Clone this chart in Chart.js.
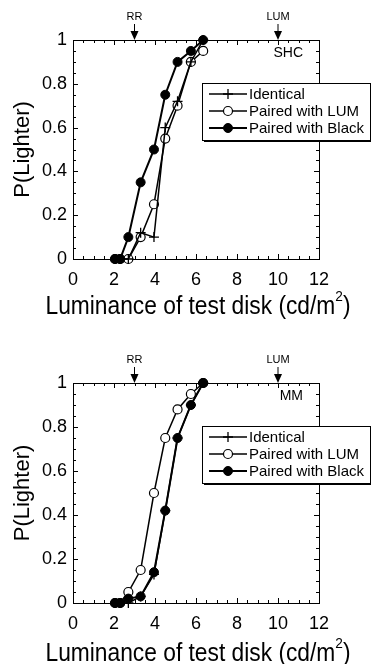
<!DOCTYPE html>
<html>
<head>
<meta charset="utf-8">
<script src="https://cdn.jsdelivr.net/npm/chart.js@4.4.1/dist/chart.umd.min.js"></script>
<style>
  html, body { margin: 0; padding: 0; background: #fff; }
  #wrap { position: relative; width: 371px; height: 664px; overflow: hidden; }
  canvas { position: absolute; left: 0; }
</style>
</head>
<body>
<div id="wrap">
  <canvas id="top" width="371" height="332" style="top:0"></canvas>
  <canvas id="bottom" width="371" height="340" style="top:332px"></canvas>
</div>
<script>
// luminance of the test disk (cd/m2), shared by every series
const luminance = [2.05, 2.3, 2.7, 3.3, 3.95, 4.5, 5.1, 5.75, 6.35];
const seriesNames = ['Identical', 'Paired with LUM', 'Paired with Black'];

// observer SHC
const shcIdentical = [0, 0, 0, 0.12, 0.1, 0.6, 0.72, 0.9, 1.0];
const shcLum       = [0, 0, 0, 0.1, 0.25, 0.55, 0.7, 0.9, 0.95];
const shcBlack     = [0, 0, 0.1, 0.35, 0.5, 0.75, 0.9, 0.95, 1.0];

// observer MM
const mmIdentical = [0, 0, 0, 0.03, 0.13, 0.42, 0.75, 0.9, 1.0];
const mmLum       = [0, 0, 0.05, 0.15, 0.5, 0.75, 0.88, 0.95, 1.0];
const mmBlack     = [0, 0, 0.02, 0.03, 0.14, 0.42, 0.75, 0.9, 1.0];

// reference luminances marked above the plot
const markerNames = ['RR', 'LUM'];
const markerValues = [3, 10];

const FONT = '"Liberation Sans", Arial, sans-serif';

function toPoints(ys) {
  return luminance.map((x, i) => ({ x, y: ys[i] }));
}

// lower order is drawn on top, so the black dots cover the rest
function makeDatasets(ident, lum, black) {
  return [
    { label: seriesNames[0], data: toPoints(ident), order: 1, borderColor: '#000', backgroundColor: '#000',
      borderWidth: 1.5, pointStyle: 'cross', pointRadius: 5, pointBorderWidth: 1.3, clip: false },
    { label: seriesNames[1], data: toPoints(lum), order: 2, borderColor: '#000', backgroundColor: '#fff',
      borderWidth: 1.5, pointStyle: 'circle', pointRadius: 4.5, pointBorderWidth: 1.2, clip: false },
    { label: seriesNames[2], data: toPoints(black), order: 0, borderColor: '#000', backgroundColor: '#000',
      borderWidth: 2, pointStyle: 'circle', pointRadius: 4.5, pointBorderWidth: 1, clip: false }
  ];
}

// frame with inward major/minor ticks on all four sides
const framePlugin = {
  id: 'frame',
  beforeDatasetsDraw(chart) {
    const { ctx, chartArea: a, scales: { x, y } } = chart;
    ctx.save();
    ctx.strokeStyle = '#000';
    ctx.lineWidth = 1;
    ctx.strokeRect(a.left + 0.5, a.top + 0.5, a.right - a.left, a.bottom - a.top);
    ctx.beginPath();
    for (let i = 0; i <= 24; i++) {
      const px = Math.round(x.getPixelForValue(i * 0.5)) + 0.5;
      const len = i % 4 === 0 ? 5 : 3;
      ctx.moveTo(px, a.bottom); ctx.lineTo(px, a.bottom - len);
      ctx.moveTo(px, a.top); ctx.lineTo(px, a.top + len);
    }
    for (let i = 0; i <= 20; i++) {
      const py = Math.round(y.getPixelForValue(i * 0.05)) + 0.5;
      const len = i % 4 === 0 ? 5 : 3;
      ctx.moveTo(a.left, py); ctx.lineTo(a.left + len, py);
      ctx.moveTo(a.right, py); ctx.lineTo(a.right - len, py);
    }
    ctx.stroke();
    ctx.restore();
  }
};

function drawMarker(ctx, ds, cx, cy) {
  ctx.lineWidth = ds.pointBorderWidth;
  ctx.strokeStyle = ds.borderColor;
  ctx.fillStyle = ds.backgroundColor;
  if (ds.pointStyle === 'cross') {
    ctx.beginPath();
    ctx.moveTo(cx - ds.pointRadius, cy); ctx.lineTo(cx + ds.pointRadius, cy);
    ctx.moveTo(cx, cy - ds.pointRadius); ctx.lineTo(cx, cy + ds.pointRadius);
    ctx.stroke();
  } else {
    ctx.beginPath();
    ctx.arc(cx, cy, ds.pointRadius, 0, Math.PI * 2);
    ctx.fill();
    ctx.stroke();
  }
}

const notesPlugin = {
  id: 'notes',
  afterDraw(chart, args, opts) {
    const { ctx, chartArea: a, scales: { x } } = chart;
    ctx.save();
    // arrows for RR and LUM
    ctx.fillStyle = '#000';
    ctx.strokeStyle = '#000';
    ctx.font = '11px ' + FONT;
    ctx.textAlign = 'center';
    ctx.textBaseline = 'middle';
    markerNames.forEach((name, i) => {
      const px = x.getPixelForValue(markerValues[i]);
      ctx.fillText(name, px, a.top - 23);
      ctx.lineWidth = 1;
      ctx.beginPath();
      ctx.moveTo(px, a.top - 16); ctx.lineTo(px, a.top - 6);
      ctx.stroke();
      ctx.beginPath();
      ctx.moveTo(px - 4, a.top - 9); ctx.lineTo(px + 4, a.top - 9); ctx.lineTo(px, a.top);
      ctx.closePath();
      ctx.fill();
    });
    // observer label
    ctx.font = '14px ' + FONT;
    ctx.textAlign = 'right';
    ctx.textBaseline = 'alphabetic';
    ctx.fillText(opts.observer, a.right - 16, a.top + 17);

    // x axis title with a raised 2, drawn by hand so it may run wider than the axis
    const main = 'Luminance of test disk (cd/m', sup = '2', tail = ')';
    ctx.textAlign = 'left';
    ctx.font = '25px ' + FONT;
    const wMain = ctx.measureText(main).width, wTail = ctx.measureText(tail).width;
    ctx.font = '15px ' + FONT;
    const wSup = ctx.measureText(sup).width;
    const total = wMain + wSup + wTail;
    const f = Math.min(1, 305 / total);
    const cx = (a.left + a.right) / 2 + 2;
    ctx.save();
    ctx.translate(cx - total * f / 2, a.bottom + opts.titleBase);
    ctx.scale(f, 1);
    ctx.font = '25px ' + FONT;
    ctx.fillText(main, 0, 0);
    ctx.fillText(tail, wMain + wSup, 0);
    ctx.font = '15px ' + FONT;
    ctx.fillText(sup, wMain, -13);
    ctx.restore();

    // legend box with drop shadow
    const bx = 202, by = a.top + 43, bw = 168, bh = 57;
    ctx.fillStyle = '#000';
    ctx.fillRect(bx + 2, by + 2, bw, bh);
    ctx.fillStyle = '#fff';
    ctx.fillRect(bx, by, bw, bh);
    ctx.lineWidth = 1;
    ctx.strokeRect(bx + 0.5, by + 0.5, bw, bh);
    ctx.font = '15px ' + FONT;
    ctx.textAlign = 'left';
    ctx.textBaseline = 'middle';
    chart.data.datasets.forEach((ds, i) => {
      const ry = by + 11 + i * 17;
      ctx.strokeStyle = ds.borderColor;
      ctx.lineWidth = ds.borderWidth;
      ctx.beginPath();
      ctx.moveTo(bx + 7, ry); ctx.lineTo(bx + 45, ry);
      ctx.stroke();
      drawMarker(ctx, ds, bx + 26, ry);
      ctx.fillStyle = '#000';
      ctx.fillText(ds.label, bx + 47, ry + 1);
    });
    ctx.restore();
  }
};

function makeChart(id, observer, datasets, padTop, xAxisH, padBottom, titleBase) {
  return new Chart(document.getElementById(id), {
    type: 'line',
    data: { datasets },
    plugins: [framePlugin, notesPlugin],
    options: {
      responsive: false,
      animation: false,
      devicePixelRatio: 1,
      layout: { padding: { top: padTop, right: 52, bottom: padBottom, left: 0 } },
      plugins: {
        legend: { display: false },
        tooltip: { enabled: false },
        notes: { observer, titleBase }
      },
      scales: {
        x: {
          type: 'linear', min: 0, max: 12,
          afterFit: s => { s.height = xAxisH; },
          grid: { display: false, drawTicks: false },
          border: { display: false },
          ticks: { stepSize: 2, padding: 10, color: '#000', font: { family: FONT, size: 18 } },
          title: { display: false }
        },
        y: {
          min: 0, max: 1,
          afterFit: s => { s.width = 73; },
          grid: { display: false, drawTicks: false },
          border: { display: false },
          ticks: { stepSize: 0.2, padding: 6, color: '#000', font: { family: FONT, size: 18 },
                   callback: v => String(Math.round(v * 10) / 10) },
          title: { display: true, text: 'P(Lighter)', color: '#000',
                   padding: { top: 10, bottom: 0 }, font: { family: FONT, size: 22 } }
        }
      }
    }
  });
}

makeChart('top', 'SHC', makeDatasets(shcIdentical, shcLum, shcBlack), 40, 61, 12, 55);
makeChart('bottom', 'MM', makeDatasets(mmIdentical, mmLum, mmBlack), 51, 64, 5, 58);
</script>
</body>
</html>
